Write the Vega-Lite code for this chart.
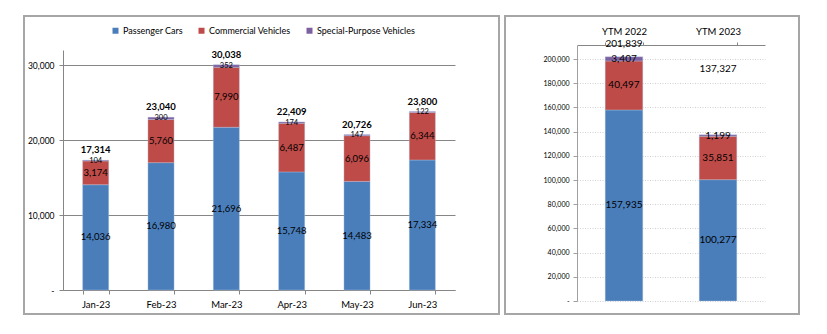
{
  "$schema": "https://vega.github.io/schema/vega-lite/v6.json",
  "padding": {"left": 23, "top": 15, "right": 0, "bottom": 0},
  "spacing": 4,
  "background": "white",
  "datasets": {
    "monthly": [
      {"period": "Jan-23", "type": "Passenger Cars", "units": 14036},
      {"period": "Jan-23", "type": "Commercial Vehicles", "units": 3174},
      {"period": "Jan-23", "type": "Special-Purpose Vehicles", "units": 104},
      {"period": "Feb-23", "type": "Passenger Cars", "units": 16980},
      {"period": "Feb-23", "type": "Commercial Vehicles", "units": 5760},
      {"period": "Feb-23", "type": "Special-Purpose Vehicles", "units": 300},
      {"period": "Mar-23", "type": "Passenger Cars", "units": 21696},
      {"period": "Mar-23", "type": "Commercial Vehicles", "units": 7990},
      {"period": "Mar-23", "type": "Special-Purpose Vehicles", "units": 352},
      {"period": "Apr-23", "type": "Passenger Cars", "units": 15748},
      {"period": "Apr-23", "type": "Commercial Vehicles", "units": 6487},
      {"period": "Apr-23", "type": "Special-Purpose Vehicles", "units": 174},
      {"period": "May-23", "type": "Passenger Cars", "units": 14483},
      {"period": "May-23", "type": "Commercial Vehicles", "units": 6096},
      {"period": "May-23", "type": "Special-Purpose Vehicles", "units": 147},
      {"period": "Jun-23", "type": "Passenger Cars", "units": 17334},
      {"period": "Jun-23", "type": "Commercial Vehicles", "units": 6344},
      {"period": "Jun-23", "type": "Special-Purpose Vehicles", "units": 122}
    ],
    "ytm": [
      {"period": "YTM 2022", "type": "Passenger Cars", "units": 157935},
      {"period": "YTM 2022", "type": "Commercial Vehicles", "units": 40497},
      {"period": "YTM 2022", "type": "Special-Purpose Vehicles", "units": 3407},
      {"period": "YTM 2023", "type": "Passenger Cars", "units": 100277},
      {"period": "YTM 2023", "type": "Commercial Vehicles", "units": 35851},
      {"period": "YTM 2023", "type": "Special-Purpose Vehicles", "units": 1199}
    ]
  },
  "resolve": {"scale": {"color": "independent"}},
  "hconcat": [
    {
      "width": 475,
      "height": 298,
      "data": {"name": "monthly"},
      "transform": [
        {"calculate": "indexof(['Passenger Cars','Commercial Vehicles','Special-Purpose Vehicles'], datum.type)", "as": "ord"}
      ],
      "encoding": {
        "x": {
          "field": "period", "type": "nominal", "sort": null,
          "scale": {"range": [39, 431], "paddingInner": 0.6, "paddingOuter": 0.3},
          "axis": {
            "title": null, "orient": "bottom", "offset": -24, "labelAngle": 0,
            "domainColor": "#868686", "tickColor": "#868686", "tickSize": 4,
            "tickBand": "extent", "labelFontSize": 9.5, "labelPadding": 5, "labelColor": "#000000"
          }
        }
      },
      "layer": [
        {
          "mark": {"type": "bar", "stroke": "#B9CDE5", "strokeWidth": 0.6, "strokeOpacity": 0.6},
          "encoding": {
            "y": {
              "field": "units", "type": "quantitative", "stack": "zero",
              "scale": {"domain": [0, 32000], "range": [274, 34], "nice": false, "zero": true},
              "axis": {
                "title": null, "offset": -39, "values": [0, 10000, 20000, 30000],
                "labelExpr": "datum.value == 0 ? '-' : format(datum.value, ',')",
                "labelOverlap": false,
                "domainColor": "#868686", "tickColor": "#868686", "tickSize": 4,
                "gridColor": "#868686", "gridWidth": 1, "labelFontSize": 8.5, "labelPadding": 5, "labelColor": "#000000"
              }
            },
            "color": {
              "field": "type", "type": "nominal",
              "scale": {"domain": ["Passenger Cars", "Commercial Vehicles", "Special-Purpose Vehicles"], "range": ["#4A7EBB", "#BE4B48", "#7D60A0"]},
              "legend": {
                "title": null, "orient": "none", "legendX": 87, "legendY": 10, "direction": "horizontal",
                "symbolType": "square", "symbolSize": 36, "symbolStrokeWidth": 0, "labelFontSize": 9,
                "columnPadding": 14, "labelOffset": 3, "labelColor": "#000000"
              }
            },
            "order": {"field": "ord", "type": "quantitative"}
          }
        },
        {
          "mark": {"type": "text", "color": "#000000", "baseline": "middle"},
          "encoding": {
            "y": {"field": "units", "type": "quantitative", "stack": "zero", "bandPosition": 0.5},
            "detail": {"field": "type"},
            "order": {"field": "ord", "type": "quantitative"},
            "text": {"field": "units", "type": "quantitative", "format": ","},
            "size": {"condition": {"test": "datum.type === 'Special-Purpose Vehicles'", "value": 7.5}, "value": 9.5}
          }
        },
        {
          "transform": [{"aggregate": [{"op": "sum", "field": "units", "as": "total"}], "groupby": ["period"]}],
          "mark": {"type": "text", "fontWeight": "bold", "fontSize": 9.5, "dy": -10, "baseline": "middle", "color": "#000000"},
          "encoding": {
            "y": {"field": "total", "type": "quantitative"},
            "text": {"field": "total", "type": "quantitative", "format": ","}
          }
        }
      ]
    },
    {
      "width": 294,
      "height": 298,
      "data": {"name": "ytm"},
      "transform": [
        {"calculate": "indexof(['Passenger Cars','Commercial Vehicles','Special-Purpose Vehicles'], datum.type)", "as": "ord"}
      ],
      "encoding": {
        "x": {
          "field": "period", "type": "nominal", "sort": null,
          "scale": {"range": [72, 260], "paddingInner": 0.6, "paddingOuter": 0.3},
          "axis": {
            "title": null, "orient": "top", "offset": -29, "labelAngle": 0,
            "domainColor": "#868686", "tickColor": "#868686", "tickSize": 3,
            "tickBand": "extent", "labelFontSize": 9.5, "labelPadding": 6, "labelColor": "#000000"
          }
        }
      },
      "layer": [
        {
          "mark": {"type": "bar", "stroke": "#B9CDE5", "strokeWidth": 0.6, "strokeOpacity": 0.6},
          "encoding": {
            "y": {
              "field": "units", "type": "quantitative", "stack": "zero",
              "scale": {"domain": [0, 211600], "range": [285, 29], "nice": false, "zero": true},
              "axis": {
                "title": null, "offset": -72,
                "values": [0, 20000, 40000, 60000, 80000, 100000, 120000, 140000, 160000, 180000, 200000],
                "labelExpr": "datum.value == 0 ? '-' : format(datum.value, ',')",
                "labelOverlap": false,
                "domainColor": "#A0A0A0", "tickColor": "#A0A0A0", "tickSize": 4,
                "gridColor": "#D0D0D0", "gridDash": [1, 1.5], "gridWidth": 1,
                "labelFontSize": 7, "labelPadding": 4, "labelColor": "#000000"
              }
            },
            "color": {
              "field": "type", "type": "nominal",
              "scale": {"domain": ["Passenger Cars", "Commercial Vehicles", "Special-Purpose Vehicles"], "range": ["#4A7EBB", "#BE4B48", "#7D60A0"]},
              "legend": null
            },
            "order": {"field": "ord", "type": "quantitative"}
          }
        },
        {
          "mark": {"type": "text", "color": "#000000", "baseline": "middle", "fontSize": 10},
          "encoding": {
            "y": {
              "field": "units", "type": "quantitative", "stack": "zero", "bandPosition": 0.5,
              "axis": {
                "title": null, "offset": -72,
                "values": [0, 20000, 40000, 60000, 80000, 100000, 120000, 140000, 160000, 180000, 200000],
                "labelExpr": "datum.value == 0 ? '-' : format(datum.value, ',')",
                "labelOverlap": false,
                "domainColor": "#A0A0A0", "tickColor": "#A0A0A0", "tickSize": 4,
                "gridColor": "#D0D0D0", "gridDash": [1, 1.5], "gridWidth": 1,
                "labelFontSize": 7, "labelPadding": 4, "labelColor": "#000000"
              }
            },
            "detail": {"field": "type"},
            "order": {"field": "ord", "type": "quantitative"},
            "text": {"field": "units", "type": "quantitative", "format": ","}
          }
        },
        {
          "transform": [
            {"aggregate": [{"op": "sum", "field": "units", "as": "total"}], "groupby": ["period"]},
            {"filter": "datum.period === 'YTM 2022'"}
          ],
          "mark": {"type": "text", "fontSize": 10, "dy": -13, "baseline": "middle", "color": "#000000"},
          "encoding": {
            "y": {
              "field": "total", "type": "quantitative",
              "axis": {
                "title": null, "offset": -72,
                "values": [0, 20000, 40000, 60000, 80000, 100000, 120000, 140000, 160000, 180000, 200000],
                "labelExpr": "datum.value == 0 ? '-' : format(datum.value, ',')",
                "labelOverlap": false,
                "domainColor": "#A0A0A0", "tickColor": "#A0A0A0", "tickSize": 4,
                "gridColor": "#D0D0D0", "gridDash": [1, 1.5], "gridWidth": 1,
                "labelFontSize": 7, "labelPadding": 4, "labelColor": "#000000"
              }
            },
            "text": {"field": "total", "type": "quantitative", "format": ","}
          }
        },
        {
          "transform": [
            {"aggregate": [{"op": "sum", "field": "units", "as": "total"}], "groupby": ["period"]},
            {"filter": "datum.period === 'YTM 2023'"}
          ],
          "mark": {"type": "text", "fontSize": 10, "baseline": "middle", "color": "#000000"},
          "encoding": {
            "y": {
              "datum": 191700, "type": "quantitative",
              "axis": {
                "title": null, "offset": -72,
                "values": [0, 20000, 40000, 60000, 80000, 100000, 120000, 140000, 160000, 180000, 200000],
                "labelExpr": "datum.value == 0 ? '-' : format(datum.value, ',')",
                "labelOverlap": false,
                "domainColor": "#A0A0A0", "tickColor": "#A0A0A0", "tickSize": 4,
                "gridColor": "#D0D0D0", "gridDash": [1, 1.5], "gridWidth": 1,
                "labelFontSize": 7, "labelPadding": 4, "labelColor": "#000000"
              }
            },
            "text": {"field": "total", "type": "quantitative", "format": ","}
          }
        }
      ]
    }
  ],
  "config": {
    "font": "Lato, Liberation Sans, sans-serif",
    "view": {"stroke": "#A6A6A6", "strokeWidth": 2},
    "axis": {"grid": true},
    "axisX": {"grid": false}
  }
}
